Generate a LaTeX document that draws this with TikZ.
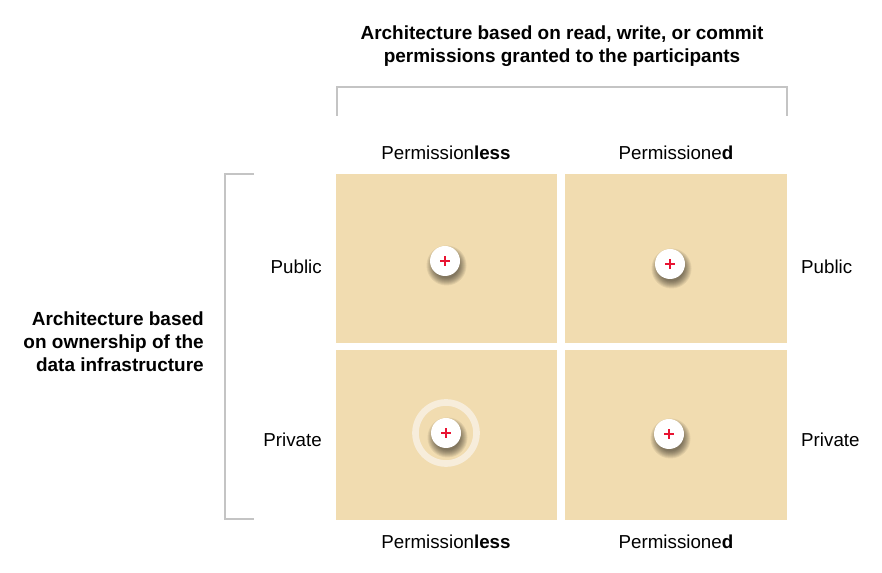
\documentclass[tikz,border=0pt]{standalone}
\usepackage{fontspec}
\setmainfont{Liberation Sans}
\definecolor{cellcol}{RGB}{241,220,176}
\definecolor{ringcol}{RGB}{247,237,219}
\definecolor{brackcol}{RGB}{196,196,196}
\definecolor{pluscol}{RGB}{232,20,50}
\tikzset{
cell/.style={fill=cellcol,draw=none,inner sep=0pt,minimum width=6.63cm,minimum height=5.07cm},
marker/.style={circle,fill=white,draw=none,inner sep=0pt,minimum size=.9cm},
lab/.style={font=\fontsize{16}{19.5}\selectfont,inner sep=0pt},
head/.style={lab,font=\fontsize{16.2}{19.6}\selectfont\bfseries,align=center},
brack/.style={draw=brackcol,line width=.05cm}
}
\begin{document}
\begin{tikzpicture}[x=.03cm,y=-.03cm]
\useasboundingbox (0,0) rectangle (882,573);

\node[cell] (c11) at (446.5,258.5) {};
\node[cell] (c12) at (676,258.5) {};
\node[cell] (c21) at (446.5,435) {};
\node[cell] (c22) at (676,435) {};

\node[circle,draw=ringcol,line width=.2cm,minimum size=1.83cm,inner sep=0pt] (ring) at (446,433) {};

\foreach \name/\x/\y in {m11/445/261,m12/670/264,m21/446/433,m22/669/434}
{
% soft shadow, built up from faint discs
\foreach \r in {13,14,...,20}
{
\fill[black,opacity=.07] (\x+1.5,\y+4.5) circle ({\r*.03cm});
}
\node[marker] (\name) at (\x,\y) {};
\draw[pluscol,line width=.07cm] ([xshift=-.14cm]\name.center)--([xshift=.14cm]\name.center)
([yshift=-.14cm]\name.center)--([yshift=.14cm]\name.center);
}

\foreach \name/\x/\y/\t in {tl/446/153/less,bl/446/542/less}
{
\node[lab] (\name) at (\x,\y) {Permission\textbf{\t}};
}
\foreach \name/\x/\y/\t in {tr/676/153/d,br/676/542/d}
{
\node[lab] (\name) at (\x,\y) {Permissione\textbf{\t}};
}

\node[lab,anchor=east] (pub1) at (322,267) {Public};
\node[lab,anchor=east] (pri1) at (322,440) {Private};
\node[lab,anchor=west] (pub2) at (801,267) {Public};
\node[lab,anchor=west] (pri2) at (801,440) {Private};

\node[head] (toptitle) at (562,46) {Architecture based on read, write, or commit\\permissions granted to the participants};
\node[head,align=right,anchor=east] (lefttitle) at (204,342) {Architecture based\\on ownership of the\\data infrastructure};

\coordinate (t1) at (337,116);
\coordinate (t2) at (337,87);
\coordinate (t3) at (787,87);
\coordinate (t4) at (787,116);
\coordinate (l1) at (254,174);
\coordinate (l2) at (225,174);
\coordinate (l3) at (225,519);
\coordinate (l4) at (254,519);
\draw[brack] (t1)--(t2)--(t3)--(t4);
\draw[brack] (l1)--(l2)--(l3)--(l4);
\end{tikzpicture}
\end{document}
